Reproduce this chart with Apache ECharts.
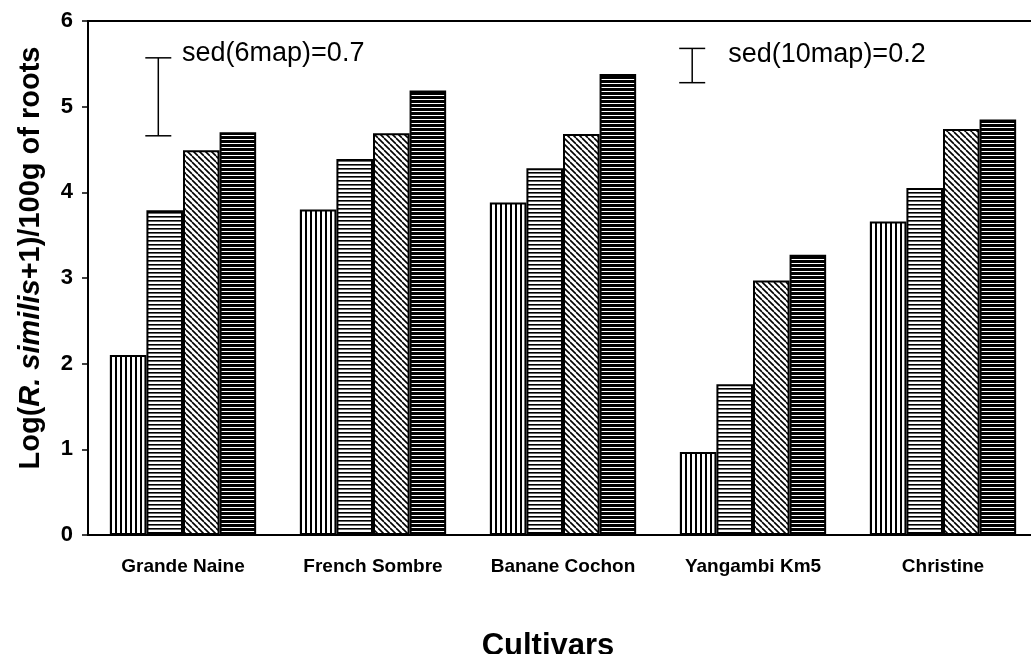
<!DOCTYPE html>
<html>
<head>
<meta charset="utf-8">
<script src="https://cdn.jsdelivr.net/npm/echarts@6/dist/echarts.min.js"></script>
<style>
html,body{margin:0;padding:0;background:#fff;}
#chart{width:1031px;height:654px;}
</style>
</head>
<body>
<div id="chart"></div>
<script>
// ---- data ----
const categories = ['Grande Naine', 'French Sombre', 'Banane Cochon', 'Yangambi Km5', 'Christine'];
const seriesNames = ['s1', 's2', 's3', 's4'];
const values1 = [2.10, 3.80, 3.88, 0.97, 3.66];
const values2 = [3.79, 4.39, 4.28, 1.76, 4.05];
const values3 = [4.49, 4.69, 4.68, 2.97, 4.74];
const values4 = [4.70, 5.19, 5.38, 3.27, 4.85];
const yTicks = [0, 1, 2, 3, 4, 5, 6];
// sed error bars (x on a 0..5 scale spanning the category bands)
const sedX = [0.37, 3.18];
const sedLow = [4.66, 5.28];
const sedHigh = [5.57, 5.68];
const sedLabels = ['sed(6map)=0.7', 'sed(10map)=0.2'];
const sedLabelX = [0.495, 3.37];
const sedLabelY = [5.62, 5.61];

// ---- patterns ----
function makePattern(w, h, draw) {
  const c = document.createElement('canvas');
  c.width = w; c.height = h;
  const ctx = c.getContext('2d');
  ctx.fillStyle = '#fff';
  ctx.fillRect(0, 0, w, h);
  ctx.fillStyle = '#000';
  ctx.strokeStyle = '#000';
  draw(ctx, w, h);
  return { image: c, repeat: 'repeat' };
}
const patVert = makePattern(5, 5, (ctx) => { ctx.fillRect(0, 0, 2, 5); });
const patHoriz = makePattern(4, 4, (ctx) => { ctx.fillRect(0, 0, 4, 1.6); });
const patDiag = makePattern(6, 6, (ctx, w, h) => {
  ctx.lineWidth = 1.6;
  for (let k = -1; k <= 1; k++) {
    ctx.beginPath();
    ctx.moveTo(k * w, 0);
    ctx.lineTo(k * w + w, h);
    ctx.stroke();
  }
});
const patDense = makePattern(4, 4, (ctx) => { ctx.fillRect(0, 0, 4, 3); });
const patterns = [patVert, patHoriz, patDiag, patDense];
const allValues = [values1, values2, values3, values4];

const barSeries = allValues.map((vals, i) => ({
  type: 'bar',
  name: seriesNames[i],
  data: vals,
  barGap: '0%',
  barCategoryGap: '23%',
  itemStyle: { color: patterns[i], borderColor: '#000', borderWidth: 2 },
  emphasis: { disabled: true },
  silent: true
}));

const sedData = sedX.map((x, i) => [x, sedLow[i], sedHigh[i], sedLabelX[i], sedLabelY[i], i]);

const sedSeries = {
  type: 'custom',
  xAxisIndex: 1,
  yAxisIndex: 0,
  data: sedData,
  silent: true,
  encode: { x: 0, y: [1, 2] },
  renderItem: function (params, api) {
    const x = api.value(0);
    const lo = api.coord([x, api.value(1)]);
    const hi = api.coord([x, api.value(2)]);
    const lp = api.coord([api.value(3), api.value(4)]);
    const idx = api.value(5);
    const half = 13;
    const st = { stroke: '#000', lineWidth: 1.5 };
    return {
      type: 'group',
      children: [
        { type: 'line', shape: { x1: lo[0], y1: lo[1], x2: hi[0], y2: hi[1] }, style: st },
        { type: 'line', shape: { x1: lo[0] - half, y1: lo[1], x2: lo[0] + half, y2: lo[1] }, style: st },
        { type: 'line', shape: { x1: hi[0] - half, y1: hi[1], x2: hi[0] + half, y2: hi[1] }, style: st },
        { type: 'text', x: lp[0], y: lp[1], style: {
            text: sedLabels[idx], fill: '#000', font: '27px "Liberation Sans", Arial, sans-serif',
            textAlign: 'left', textVerticalAlign: 'middle' } }
      ]
    };
  }
};

const chart = echarts.init(document.getElementById('chart'), null, { renderer: 'canvas' });
chart.setOption({
  animation: false,
  backgroundColor: '#fff',
  textStyle: { fontFamily: '"Liberation Sans", Arial, sans-serif', color: '#000' },
  grid: { left: 88, top: 21, width: 950, height: 514, show: true, borderColor: '#000', borderWidth: 2,
          backgroundColor: 'transparent', outerBoundsMode: 'none', containLabel: false },
  xAxis: [{
    type: 'category',
    data: categories,
    axisLine: { lineStyle: { color: '#000', width: 2 } },
    axisTick: { show: false },
    axisLabel: { color: '#000', fontSize: 19, fontWeight: 'bold', margin: 22, fontFamily: '"Liberation Sans", Arial, sans-serif' },
    name: 'Cultivars',
    nameLocation: 'middle',
    nameGap: 96,
    nameTextStyle: { fontSize: 31, fontWeight: 'bold', color: '#000', padding: [0, 30, 0, 0] }
  }, {
    type: 'value', min: 0, max: 5, show: false
  }],
  yAxis: {
    type: 'value',
    min: yTicks[0], max: yTicks[yTicks.length - 1], interval: 1,
    splitLine: { show: false },
    axisLine: { show: true, lineStyle: { color: '#000', width: 2 } },
    axisTick: { show: true, inside: false, length: 6, lineStyle: { color: '#000', width: 1.5 } },
    axisLabel: { color: '#000', fontSize: 22, fontWeight: 'bold', margin: 15 },
    name: 'Log({i|R. similis}+1)/100g of roots',
    nameLocation: 'middle',
    nameRotate: 90,
    nameGap: 43,
    nameTextStyle: {
      fontSize: 29, fontWeight: 'bold', color: '#000', padding: [0, 0, 0, 40],
      rich: { i: { fontSize: 29, fontWeight: 'bold', fontStyle: 'italic', color: '#000' } }
    }
  },
  series: barSeries.concat([sedSeries])
});
</script>
</body>
</html>
